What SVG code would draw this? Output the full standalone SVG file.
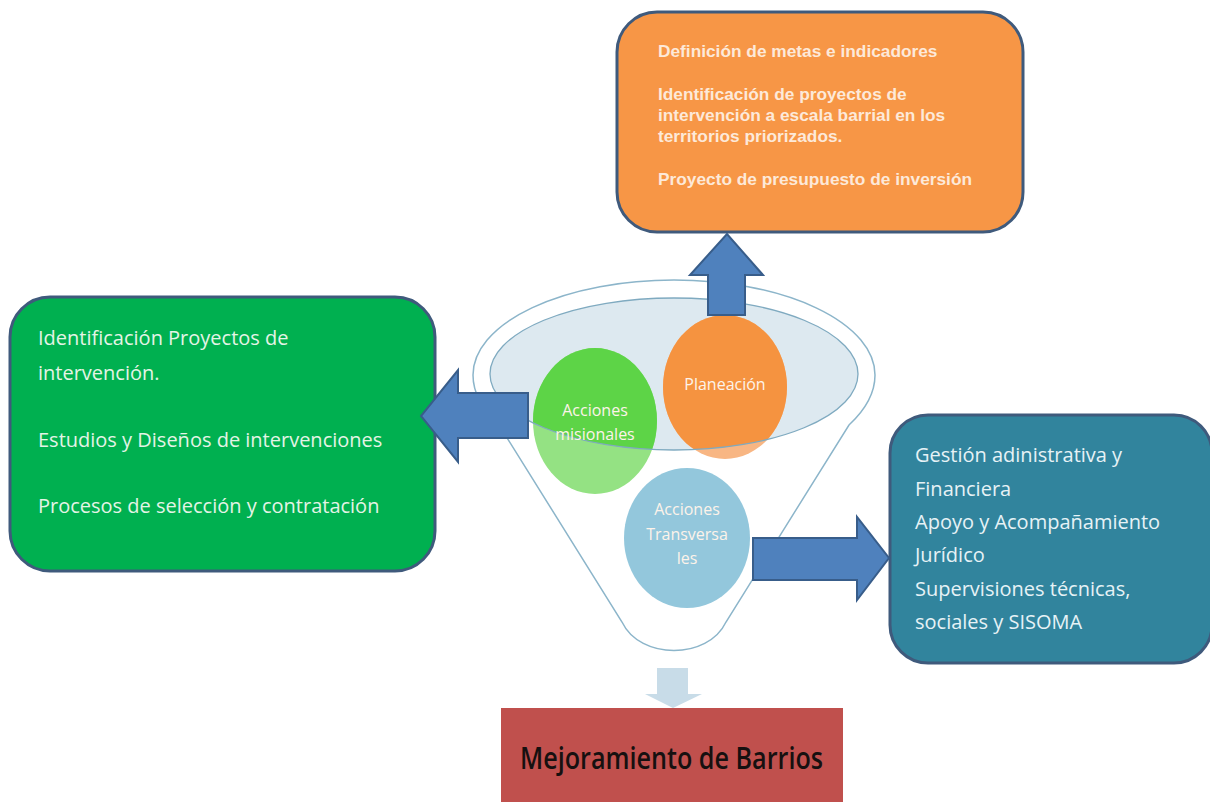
<svg xmlns="http://www.w3.org/2000/svg" width="1210" height="802" viewBox="0 0 1210 802">
<style>
.box{stroke:#3f5a7c;stroke-width:3}
.cal{font-family:"Open Sans","Liberation Sans",sans-serif}
.gtx{font-size:20px;fill:#e4f4e6}
.ttx{font-size:20px;fill:#e6f2f6}
.otx{font-family:"Liberation Sans",Arial,sans-serif;font-weight:bold;font-size:17.3px;fill:#fde9d9}
.ctx{font-size:16px;fill:#fdf3ea;text-anchor:middle}
.arrow{fill:#4f81bd;stroke:#385d8a;stroke-width:2;stroke-linejoin:miter}
</style>
<defs>
<clipPath id="rim"><ellipse cx="674" cy="374" rx="184" ry="76"/></clipPath>
</defs>
<rect width="1210" height="802" fill="#ffffff"/>

<g id="funnel">
<path d="M473 375 C473 395 485 412 499 425 L622 622 C640 660 708 660 726 622 L849 425 C863 412 875 395 875 375 A201 95 0 0 0 473 375 Z" fill="#ffffff" stroke="#8cb5ca" stroke-width="1.5"/>
<ellipse cx="674" cy="374" rx="184" ry="76" fill="#dde9f0"/>
</g>

<g id="node-misionales">
<ellipse cx="595" cy="421" rx="62" ry="73" fill="#94e283"/>
<ellipse cx="595" cy="421" rx="62" ry="73" fill="#5dd447" clip-path="url(#rim)"/>
</g>
<g id="node-planeacion">
<ellipse cx="725" cy="387" rx="62" ry="72" fill="#f8b683"/>
<ellipse cx="725" cy="387" rx="62" ry="72" fill="#f59340" clip-path="url(#rim)"/>
</g>
<g id="node-transversales">
<ellipse cx="687" cy="538" rx="63" ry="70" fill="#93c7dc"/>
</g>
<ellipse cx="674" cy="374" rx="184" ry="76" fill="none" stroke="#7faac0" stroke-width="1.3"/>
<g class="cal">
<text class="ctx" x="595" y="416">Acciones</text>
<text class="ctx" x="595" y="440">misionales</text>
<text class="ctx" x="725" y="390">Planeación</text>
<text class="ctx" x="687" y="515">Acciones</text>
<text class="ctx" x="687" y="540">Transversa</text>
<text class="ctx" x="687" y="564">les</text>
</g>

<g id="node-orange">
<rect class="box" x="617" y="12" width="406" height="220" rx="40" fill="#f79646"/>
<text class="otx" x="658" y="57">Definición de metas e indicadores</text>
<text class="otx" x="658" y="100">Identificación de proyectos de</text>
<text class="otx" x="658" y="121">intervención a escala barrial en los</text>
<text class="otx" x="658" y="142">territorios priorizados.</text>
<text class="otx" x="658" y="185">Proyecto de presupuesto de inversión</text>
</g>

<g id="node-green">
<rect class="box" x="10" y="297" width="425" height="274" rx="40" fill="#00b050"/>
<g class="cal gtx">
<text x="38" y="345">Identificación Proyectos de</text>
<text x="38" y="380">intervención.</text>
<text x="38" y="447">Estudios y Diseños de intervenciones</text>
<text x="38" y="513">Procesos de selección y contratación</text>
</g>
</g>

<g id="node-teal">
<rect class="box" x="890" y="415" width="322" height="248" rx="38" fill="#31849d"/>
<g class="cal ttx">
<text x="915" y="462">Gestión  adinistrativa y</text>
<text x="915" y="496">Financiera</text>
<text x="915" y="529">Apoyo y Acompañamiento</text>
<text x="915" y="562">Jurídico</text>
<text x="915" y="596">Supervisiones  técnicas,</text>
<text x="915" y="629">sociales y SISOMA</text>
</g>
</g>

<g id="node-red">
<rect x="501" y="708" width="342" height="100" fill="#c0504d"/>
<text x="520" y="769" textLength="303" lengthAdjust="spacingAndGlyphs" font-family="'Open Sans','Liberation Sans',sans-serif" font-weight="600" font-size="30" fill="#161010">Mejoramiento de Barrios</text>
</g>

<g id="connectors">
<polygon class="arrow" points="708,315 708,275 690,275 727,234 763,275 745,275 745,315"/>
<polygon class="arrow" points="528,393 458,393 458,370 421,416 458,462 458,438 528,438"/>
<polygon class="arrow" points="753,538 857,538 857,517 889,558 857,600 857,580 753,580"/>
<polygon points="657,668 688,668 688,694 702,694 673,708 645,694 657,694" fill="#c8dce8"/>
</g>
</svg>
